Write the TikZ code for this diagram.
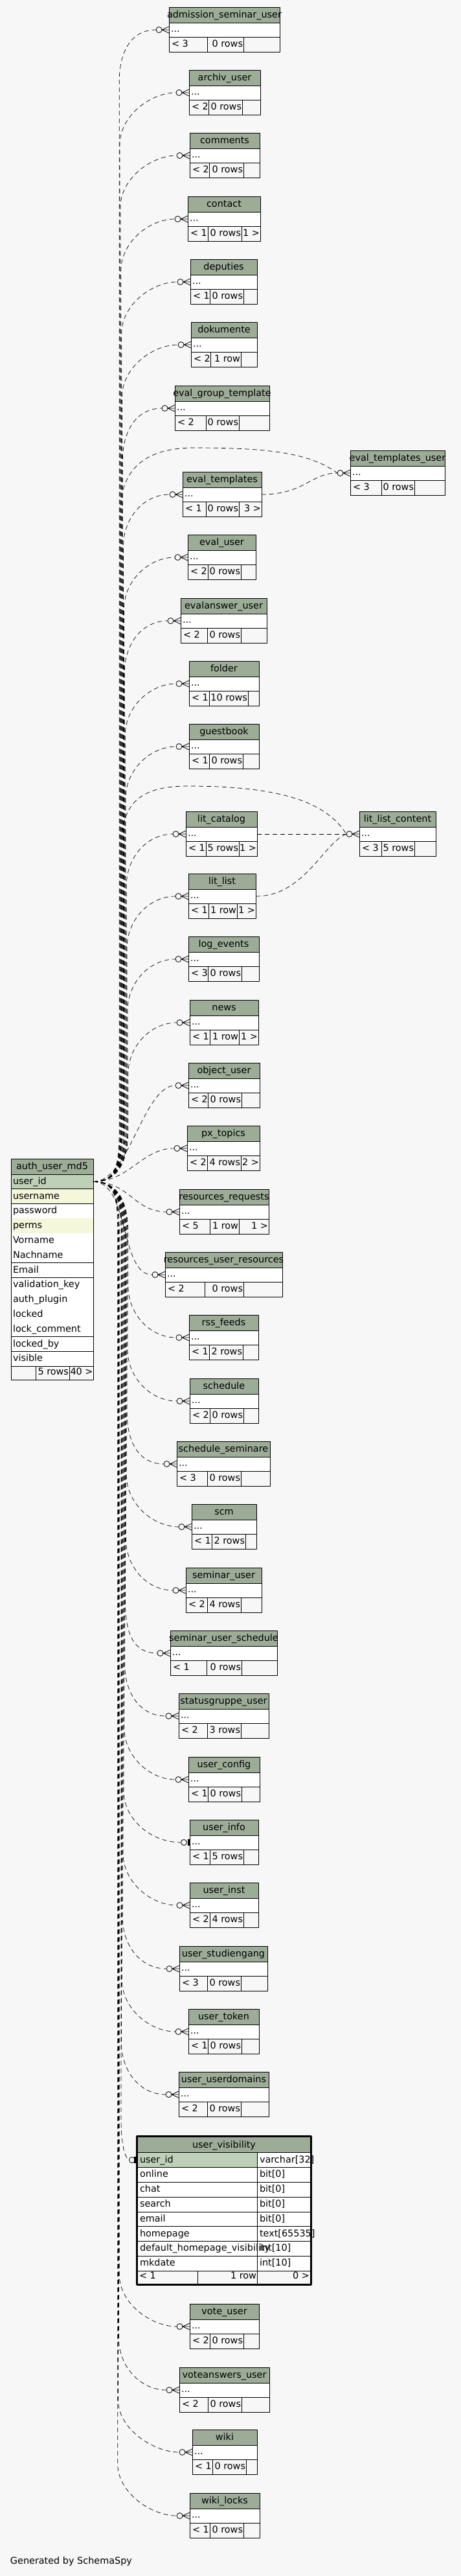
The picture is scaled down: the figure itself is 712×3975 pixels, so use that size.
\documentclass[tikz,border=0pt]{standalone}
\usepackage{fontspec}
\setmainfont{DejaVu Sans}
\usetikzlibrary{calc}

\definecolor{bgcol}{HTML}{F7F7F7}
\definecolor{hdrcol}{HTML}{9CAC97}
\definecolor{pkcol}{HTML}{BED1B8}
\definecolor{idxcol}{HTML}{F4F7DA}
\newcommand{\tabfont}{\fontsize{14.4}{17}\selectfont}

\tikzset{
  tabline/.style={line width=0.8pt, black},
  tabtext/.style={inner sep=0pt, outer sep=0pt, font=\tabfont},
  fkline/.style={line width=0.7pt, dash pattern=on 7pt off 5pt},
  markline/.style={line width=0.8pt, solid, fill=bgcol}
}

% #1 name, #2 top, #3 left, #4 right, #5 #6 footer splits, #7 #8 #9 footer texts
\newcommand{\smalltab}[9]{%
  \fill[hdrcol] (#3,#2) rectangle (#4,#2+24);
  \fill[white] (#3,#2+24) rectangle (#4,#2+46);
  \draw[tabline] (#3,#2) rectangle (#4,#2+69)
    (#3,#2+24) -- (#4,#2+24) (#3,#2+46) -- (#4,#2+46)
    (#5,#2+46) -- (#5,#2+69) (#6,#2+46) -- (#6,#2+69);
  \node[tabtext, anchor=base] (#1-h) at ({(#3+#4)/2},#2+16.5) {\detokenize{#1}};
  \node[tabtext, anchor=base west] (#1-d) at (#3+3,#2+38.5) {...};
  \node[tabtext, anchor=base west] (#1-l) at (#3+4,#2+61.5) {#7};
  \node[tabtext, anchor=base east] (#1-m) at (#6-1,#2+61.5) {#8};
  \node[tabtext, anchor=base east] (#1-r) at (#4-1,#2+61.5) {#9};
  \coordinate (#1) at (#3,#2+35);
  \coordinate (#1-out) at (#4,#2+35);
}

% dashed link from auth_user_md5.user_id to a table (canvas units, y up)
\newcommand{\fk}[2][20]{%
  \draw[fkline] let \p1=(src), \p2=(#2),
      \n4={ifthenelse(\y2>\y1,1,-1)},
      \n5={200pt-abs(\y2-\y1)/1800*16}
    in (src) .. controls ([xshift=35pt]src) and (\n5,\y1+\n4*25pt) .. (\n5,\y1+\n4*80pt)
      -- (\n5,\y2-\n4*80pt) .. controls (\n5,\y2-\n4*36pt) and (\x2-60pt,\y2) .. (\x2-#1pt,\y2);}
\newcommand{\fknear}[2][20]{%
  \draw[fkline] (src) .. controls ([xshift=56pt]src) and ([xshift=-70pt]#2) .. ([xshift=-#1pt]#2);}

\newcommand{\crowmark}[1]{%
  \draw[markline] ([xshift=-15.5pt]#1) circle[radius=4.5pt];
  \draw[markline] ([xshift=-11pt]#1) -- ([yshift=5pt]#1)
    ([xshift=-11pt]#1) -- (#1) ([xshift=-11pt]#1) -- ([yshift=-5pt]#1);}
\newcommand{\teemark}[2][9]{%
  \draw[markline] ([xshift=-#1pt]#2) circle[radius=4.5pt];
  \fill ([xshift=-3pt,yshift=-5pt]#2) rectangle ([yshift=5pt]#2);}

\begin{document}
\begin{tikzpicture}[x=1pt, y=-1pt, line join=round]
\fill[bgcol] (0,0) rectangle (712,3975);
\useasboundingbox (0,0) rectangle (712,3975);

% --- auth_user_md5
\fill[hdrcol] (17,1788) rectangle (144,1812);
\node[tabtext, anchor=base] (auth-h) at (80.5,1804.5) {auth\_user\_md5};
\foreach \r/\cl [count=\i from 0] in {user\_id/pkcol, username/idxcol, password/white, perms/idxcol,
    Vorname/white, Nachname/white, Email/white, validation\_key/white, auth\_plugin/white,
    locked/white, lock\_comment/white, locked\_by/white, visible/white} {
  \fill[fill=\cl] (17,1812+22.8*\i) rectangle (144,1834.8+22.8*\i);
  \draw[tabline] (17,1834.8+22.8*\i) -- (144,1834.8+22.8*\i);
  \node[tabtext, anchor=base west] (auth-\i) at (20,1827.3+22.8*\i) {\r};
}
\draw[tabline] (17,1788) rectangle (144,2129) (17,1812) -- (144,1812)
  (55,2108.4) -- (55,2129) (107,2108.4) -- (107,2129);
\node[tabtext, anchor=base east] (auth-rows) at (106,2121.5) {5 rows};
\node[tabtext, anchor=base east] (auth-kids) at (143.5,2121.5) {40 >};
\coordinate (src) at (144,1823.4);

% --- child tables
\smalltab{admission_seminar_user}{11}{261}{432}{320}{376}{< 3}{0 rows}{}
\smalltab{archiv_user}{108}{292}{402}{322}{374}{< 2}{0 rows}{}
\smalltab{comments}{205}{293}{401}{323}{376}{< 2}{0 rows}{}
\smalltab{contact}{303}{290}{402}{321}{373}{< 1}{0 rows}{1 >}
\smalltab{deputies}{400}{294}{397}{324}{376}{< 1}{0 rows}{}
\smalltab{dokumente}{497}{295}{397}{325}{372}{< 2}{1 row}{}
\smalltab{eval_group_template}{595}{270}{416}{318}{369}{< 2}{0 rows}{}
\smalltab{eval_templates}{728}{282}{404}{318}{369}{< 1}{0 rows}{3 >}
\smalltab{eval_templates_user}{695}{541}{687}{589}{640}{< 3}{0 rows}{}
\smalltab{eval_user}{825}{290}{395}{321}{372}{< 2}{0 rows}{}
\smalltab{evalanswer_user}{923}{279}{412}{320}{372}{< 2}{0 rows}{}
\smalltab{folder}{1020}{292}{400}{323}{383}{< 1}{10 rows}{}
\smalltab{guestbook}{1117}{292}{400}{323}{375}{< 1}{0 rows}{}
\smalltab{lit_catalog}{1252}{287}{397}{318}{369}{< 1}{5 rows}{1 >}
\smalltab{lit_list}{1348}{291}{395}{322}{366}{< 1}{1 row}{1 >}
\smalltab{lit_list_content}{1252}{555}{673}{589}{640}{< 3}{5 rows}{}
\smalltab{log_events}{1445}{291}{400}{321}{373}{< 3}{0 rows}{}
\smalltab{news}{1543}{293}{399}{324}{369}{< 1}{1 row}{1 >}
\smalltab{object_user}{1640}{291}{401}{321}{373}{< 2}{0 rows}{}
\smalltab{px_topics}{1737}{289}{401}{320}{372}{< 2}{4 rows}{2 >}
\smalltab{resources_requests}{1835}{277}{415}{324}{369}{< 5}{1 row}{1 >}
\smalltab{resources_user_resources}{1932}{255}{436}{316}{376}{< 2}{0 rows}{}
\smalltab{rss_feeds}{2029}{292}{399}{323}{375}{< 1}{2 rows}{}
\smalltab{schedule}{2127}{293}{399}{324}{376}{< 2}{0 rows}{}
\smalltab{schedule_seminare}{2224}{273}{417}{320}{372}{< 3}{0 rows}{}
\smalltab{scm}{2321}{296}{396}{327}{379}{< 1}{2 rows}{}
\smalltab{seminar_user}{2419}{287}{404}{320}{372}{< 2}{4 rows}{}
\smalltab{seminar_user_schedule}{2516}{263}{428}{319}{373}{< 1}{0 rows}{}
\smalltab{statusgruppe_user}{2613}{276}{415}{320}{372}{< 2}{3 rows}{}
\smalltab{user_config}{2711}{291}{401}{321}{373}{< 1}{0 rows}{}
\smalltab{user_info}{2808}{293}{399}{324}{376}{< 1}{5 rows}{}
\smalltab{user_inst}{2905}{293}{399}{324}{376}{< 2}{4 rows}{}
\smalltab{user_studiengang}{3003}{277}{413}{320}{372}{< 3}{0 rows}{}
\smalltab{user_token}{3100}{291}{400}{321}{373}{< 1}{0 rows}{}
\smalltab{user_userdomains}{3197}{276}{415}{320}{372}{< 2}{0 rows}{}
\smalltab{vote_user}{3555}{293}{400}{324}{376}{< 2}{0 rows}{}
\smalltab{voteanswers_user}{3653}{277}{416}{321}{373}{< 2}{0 rows}{}
\smalltab{wiki}{3749}{297}{397}{328}{380}{< 1}{0 rows}{}
\smalltab{wiki_locks}{3847}{293}{401}{324}{376}{< 1}{0 rows}{}

% --- user_visibility
\fill[hdrcol] (213,3298) rectangle (479,3321.7);
\fill[white] (213,3321.7) rectangle (479,3504.1);
\fill[pkcol] (213,3321.7) rectangle (397,3344.5);
\node[tabtext, anchor=base] (vis-h) at (346,3314) {user\_visibility};
\foreach \r/\ty [count=\i from 0] in {user\_id/varchar[32], online/bit[0], chat/bit[0], search/bit[0],
    email/bit[0], homepage/text[65535], default\_homepage\_visibility/int[10], mkdate/int[10]} {
  \draw[tabline] (213,3321.7+22.8*\i) -- (479,3321.7+22.8*\i);
  \node[tabtext, anchor=base west] (vis-\i) at (216,3337+22.8*\i) {\r};
  \node[tabtext, anchor=base west] (vis-t\i) at (401,3337+22.8*\i) {\ty};
}
\draw[tabline] (213,3504.1) -- (479,3504.1) (397,3321.7) -- (397,3524) (305,3504.1) -- (305,3524);
\node[tabtext, anchor=base west] (vis-l) at (215,3516.5) {< 1};
\node[tabtext, anchor=base east] (vis-m) at (396,3516.5) {1 row};
\node[tabtext, anchor=base east] (vis-r) at (478,3516.5) {0 >};
\draw[line width=3pt] (211.5,3296.5) rectangle (480.5,3525.5);
\coordinate (user_visibility) at (210,3333);

% --- links
\foreach \t in {admission_seminar_user, archiv_user, comments, contact, deputies, dokumente,
    eval_group_template, eval_templates, eval_user, evalanswer_user, folder, guestbook,
    lit_catalog, lit_list, log_events, news, rss_feeds, schedule, schedule_seminare, scm,
    seminar_user, seminar_user_schedule, statusgruppe_user, user_config, user_inst,
    user_studiengang, user_token, user_userdomains, vote_user, voteanswers_user, wiki, wiki_locks}
  {\fk{\t}\crowmark{\t}}
\foreach \t in {object_user, px_topics, resources_requests, resources_user_resources}
  {\fknear{\t}\crowmark{\t}}
\fk[13.5]{user_info}
\teemark{user_info}

\draw[fkline] (src) .. controls (179,1824) and (187,1849) .. (187,1904) -- (187,3270)
  .. controls (187,3305) and (192,3331) .. ([xshift=-10pt]user_visibility);
\teemark[6]{user_visibility}

\draw[fkline] (src) .. controls (179,1824) and (186,1799) .. (186,1744) -- (186,790)
  .. controls (186,715) and (235,691) .. (300,691)
  .. controls (420,691) and (480,700) .. ([xshift=-20pt]eval_templates_user);
\draw[fkline] (eval_templates-out) .. controls (470,763) and (480,730) .. ([xshift=-20pt]eval_templates_user);
\crowmark{eval_templates_user}

\draw[fkline] (src) .. controls (179,1824) and (188,1799) .. (188,1744) -- (188,1300)
  .. controls (188,1230) and (230,1213) .. (290,1213)
  .. controls (440,1213) and (505,1240) .. ([xshift=-20pt]lit_list_content);
\draw[fkline] (lit_catalog-out) -- ([xshift=-20pt]lit_list_content);
\draw[fkline] (lit_list-out) .. controls (470,1383) and (500,1300) .. ([xshift=-20pt]lit_list_content);
\crowmark{lit_list_content}

\node[tabtext, anchor=base west] (credit) at (16,3956) {Generated by SchemaSpy};
\end{tikzpicture}
\end{document}
